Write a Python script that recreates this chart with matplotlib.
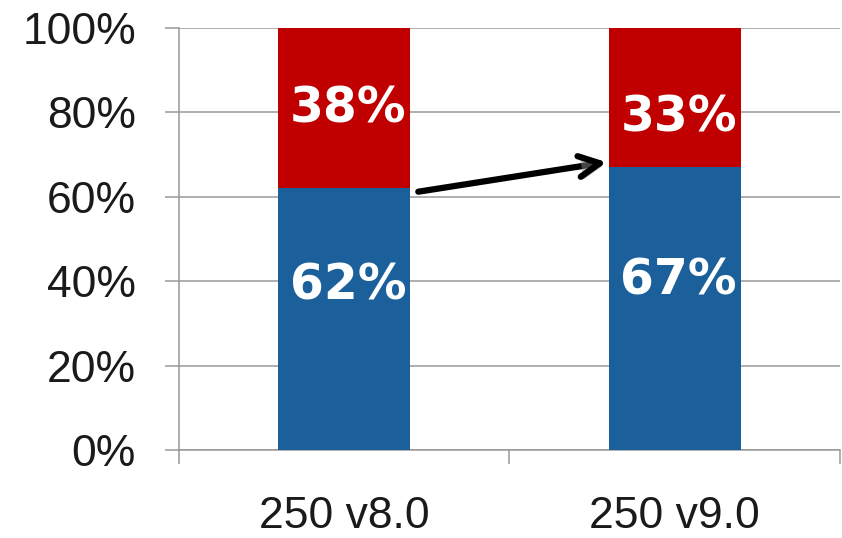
import matplotlib.pyplot as plt
import matplotlib.patheffects as pe
from matplotlib.ticker import FixedLocator, PercentFormatter

# Anteile je Version (unten blau, oben rot)
versions = ["250 v8.0", "250 v9.0"]
share_low = [62, 67]
share_high = [38, 33]

BLUE = "#1b609b"
RED = "#c00000"
GRID = "#999999"

fig = plt.figure(figsize=(8.42, 5.38), dpi=100)
ax = fig.add_axes([0.2126, 0.1636, 0.7850, 0.7844])

x = list(range(len(versions)))
ax.bar(x, share_low, width=0.4, color=BLUE, zorder=3)
ax.bar(x, share_high, width=0.4, bottom=share_low, color=RED, zorder=3)

# Beschriftungen in den Balken
label_font = dict(family="DejaVu Sans", fontsize=35, fontweight="bold",
                  color="white", ha="center", va="center", zorder=5)
low_pos = [0.63, 0.60]
high_pos = [0.50, 0.36]
for i in x:
    ax.text(i + 0.012, share_low[i] * low_pos[i], f"{share_low[i]}%", **label_font)
    ax.text(i + 0.012, share_low[i] + share_high[i] * high_pos[i],
            f"{share_high[i]}%", **label_font)

# Pfeil zwischen den Balkengrenzen
arr = ax.annotate("", xy=(0.794, share_low[1] + 1.2),
                  xytext=(0.224, share_low[0] - 0.8),
                  arrowprops=dict(arrowstyle="->,head_length=1.5,head_width=0.75",
                                  color="black", lw=4.5,
                                  shrinkA=0, shrinkB=0),
                  zorder=6)
arr.arrow_patch.set_path_effects([
    pe.SimplePatchShadow(offset=(2, -2), shadow_rgbFace="#888888", alpha=0.5),
    pe.Normal()])

# Achsen
ax.set_xlim(-0.5, 1.5)
ax.set_ylim(0, 100)
ax.yaxis.set_major_locator(FixedLocator([0, 20, 40, 60, 80, 100]))
ax.yaxis.set_major_formatter(PercentFormatter(decimals=0))
ax.grid(axis="y", color=GRID, linewidth=1.1, zorder=0)
ax.set_axisbelow(True)

ax.set_xticks(x)
ax.set_xticklabels(versions)
ax.set_xticks([-0.5, 0.5, 1.5], minor=True)
ax.tick_params(axis="x", which="major", length=0, pad=33,
               labelsize=32, labelcolor="#1a1a1a")
ax.tick_params(axis="x", which="minor", length=10, width=1.1,
               color=GRID, direction="out")
ax.tick_params(axis="y", length=10, width=1.1, color=GRID, pad=21,
               labelsize=32, labelcolor="#1a1a1a")
for lab in ax.get_xticklabels() + ax.get_yticklabels():
    lab.set_family("Liberation Sans")

for side in ("top", "right"):
    ax.spines[side].set_visible(False)
for side in ("left", "bottom"):
    ax.spines[side].set_color(GRID)
    ax.spines[side].set_linewidth(1.1)

fig.savefig("out.png", dpi=100)
